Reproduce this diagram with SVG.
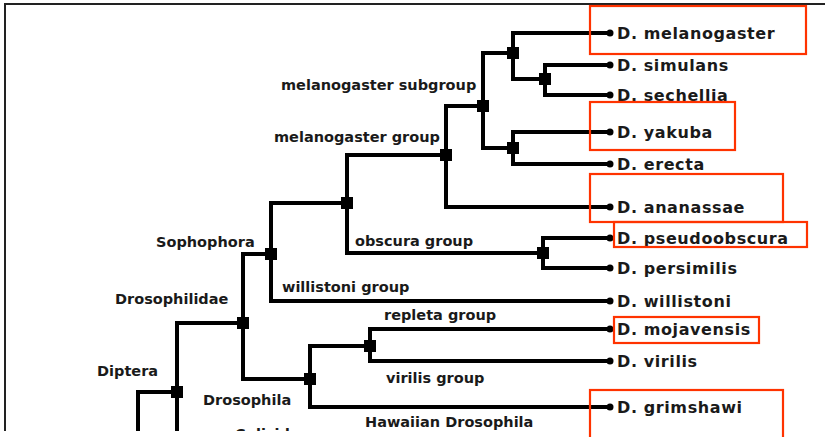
<svg xmlns="http://www.w3.org/2000/svg" width="825" height="437" viewBox="0 0 825 437">
<style>
.edge{fill:none;stroke:#000;stroke-width:4;stroke-linejoin:miter;stroke-linecap:butt}
.sq{fill:#000}
.dot{fill:#000}
.leaf{font-family:"DejaVu Sans",sans-serif;font-weight:bold;font-size:16px;letter-spacing:0.6px;fill:#1a1a1a}
.lab{font-family:"DejaVu Sans",sans-serif;font-weight:bold;font-size:14.5px;fill:#1a1a1a}
.hl{fill:none;stroke:#ff3300;stroke-width:2.2}
.frame{fill:none;stroke:#222;stroke-width:2}
</style>
<defs>
<clipPath id="clip"><rect x="0" y="0" width="825" height="431"/></clipPath>
</defs>
<rect width="825" height="437" fill="#fff"/>
<g clip-path="url(#clip)">
<path class="frame" d="M5,440 V4 H830"/>
<g id="connectors">
<path class="edge" d="M610,33 H513 V79 H545"/>
<path class="edge" d="M610,65 H545 V95 H610"/>
<path class="edge" d="M513,53 H483 V148 H513"/>
<path class="edge" d="M610,132 H513 V164 H610"/>
<path class="edge" d="M483,106 H446 V207 H610"/>
<path class="edge" d="M446,155 H347 V253 H543"/>
<path class="edge" d="M610,238 H543 V268 H610"/>
<path class="edge" d="M347,203 H271 V301 H610"/>
<path class="edge" d="M271,254 H243 V379 H310"/>
<path class="edge" d="M370,346 H310 V407 H610"/>
<path class="edge" d="M610,329 H370 V361 H610"/>
<path class="edge" d="M243,323 H177 V440"/>
<path class="edge" d="M177,392 H138 V440"/>
</g>
<g id="n-melanogaster-sub"><rect class="sq" x="477" y="100" width="12" height="12"/><text class="lab" x="281" y="90">melanogaster subgroup</text></g>
<g id="n-b"><rect class="sq" x="507" y="47" width="12" height="12"/></g>
<g id="n-c"><rect class="sq" x="539" y="73" width="12" height="12"/></g>
<g id="n-d"><rect class="sq" x="507" y="142" width="12" height="12"/></g>
<g id="n-melanogaster-group"><rect class="sq" x="440" y="149" width="12" height="12"/><text class="lab" x="274" y="141.5">melanogaster group</text></g>
<g id="n-f"><rect class="sq" x="341" y="197" width="12" height="12"/><text class="lab" x="355" y="246">obscura group</text></g>
<g id="n-obscura"><rect class="sq" x="537" y="247" width="12" height="12"/></g>
<g id="n-sophophora"><rect class="sq" x="265" y="248" width="12" height="12"/><text class="lab" x="156" y="246.5">Sophophora</text><text class="lab" x="282" y="291.5">willistoni group</text></g>
<g id="n-drosophilidae"><rect class="sq" x="237" y="317" width="12" height="12"/><text class="lab" x="115" y="304">Drosophilidae</text></g>
<g id="n-drosophila"><rect class="sq" x="304" y="373" width="12" height="12"/><text class="lab" x="203" y="405">Drosophila</text><text class="lab" x="365" y="427">Hawaiian Drosophila</text></g>
<g id="n-repleta"><rect class="sq" x="364" y="340" width="12" height="12"/><text class="lab" x="384" y="320">repleta group</text><text class="lab" x="386" y="383">virilis group</text></g>
<g id="n-diptera"><rect class="sq" x="171" y="386" width="12" height="12"/><text class="lab" x="97" y="376">Diptera</text><text class="lab" x="235" y="439">Culicidae</text></g>
<g id="l-melanogaster"><circle class="dot" cx="610" cy="33" r="3.5"/><text class="leaf" x="617" y="39">D. melanogaster</text></g>
<g id="l-simulans"><circle class="dot" cx="610" cy="65" r="3.5"/><text class="leaf" x="617" y="71">D. simulans</text></g>
<g id="l-sechellia"><circle class="dot" cx="610" cy="95" r="3.5"/><text class="leaf" x="617" y="101">D. sechellia</text></g>
<g id="l-yakuba"><circle class="dot" cx="610" cy="132" r="3.5"/><text class="leaf" x="617" y="138">D. yakuba</text></g>
<g id="l-erecta"><circle class="dot" cx="610" cy="164" r="3.5"/><text class="leaf" x="617" y="170">D. erecta</text></g>
<g id="l-ananassae"><circle class="dot" cx="610" cy="207" r="3.5"/><text class="leaf" x="617" y="213">D. ananassae</text></g>
<g id="l-pseudoobscura"><circle class="dot" cx="610" cy="238" r="3.5"/><text class="leaf" x="617" y="244">D. pseudoobscura</text></g>
<g id="l-persimilis"><circle class="dot" cx="610" cy="268" r="3.5"/><text class="leaf" x="617" y="274">D. persimilis</text></g>
<g id="l-willistoni"><circle class="dot" cx="610" cy="301" r="3.5"/><text class="leaf" x="617" y="307">D. willistoni</text></g>
<g id="l-mojavensis"><circle class="dot" cx="610" cy="329" r="3.5"/><text class="leaf" x="617" y="335">D. mojavensis</text></g>
<g id="l-virilis"><circle class="dot" cx="610" cy="361" r="3.5"/><text class="leaf" x="617" y="367">D. virilis</text></g>
<g id="l-grimshawi"><circle class="dot" cx="610" cy="407" r="3.5"/><text class="leaf" x="617" y="413">D. grimshawi</text></g>
</g>
<g id="highlights">
<rect class="hl" x="590" y="6" width="216" height="48"/>
<rect class="hl" x="590" y="102" width="145" height="48"/>
<rect class="hl" x="590" y="174" width="193" height="48"/>
<rect class="hl" x="614" y="222" width="193" height="25"/>
<rect class="hl" x="614" y="317" width="145" height="26"/>
<rect class="hl" x="590" y="390" width="193" height="60"/>
</g>
</svg>
